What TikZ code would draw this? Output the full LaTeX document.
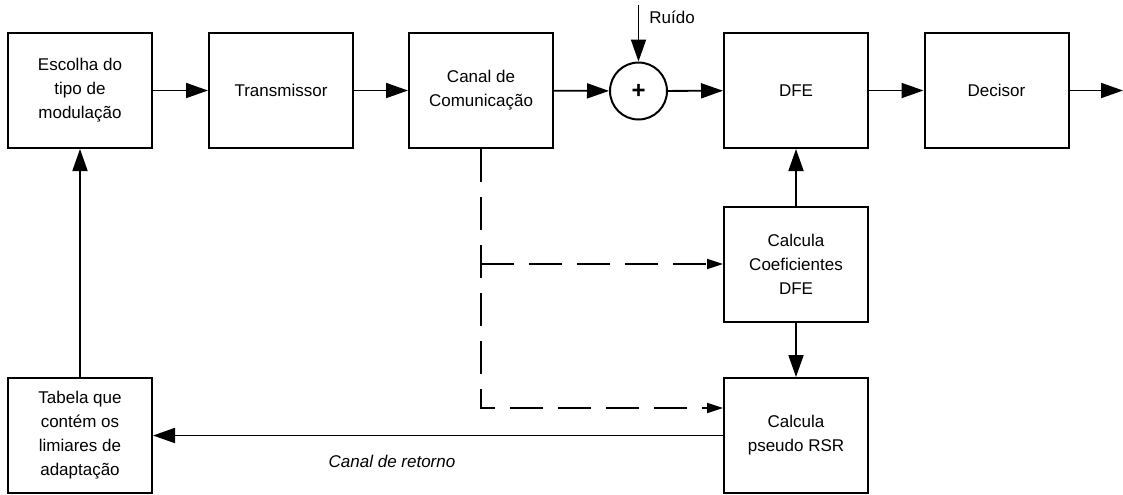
\documentclass[tikz,border=0pt]{standalone}
\usepackage{fontspec}
\setmainfont{Liberation Sans}
\usetikzlibrary{arrows.meta}
\begin{document}
\begin{tikzpicture}[x=0.5pt,y=-0.5pt,
  blk/.style={draw,line width=1pt,minimum width=72pt,minimum height=57.5pt,
    inner sep=0pt,align=center,font=\fontsize{8.5}{12}\selectfont},
  sumnode/.style={draw,circle,line width=1pt,minimum size=28.5pt,inner sep=0pt},
  flow/.style={line width=0.9pt,-{Triangle[length=11pt,width=7.5pt]}},
  tapline/.style={line width=0.9pt,dash pattern=on 16.5pt off 7.5pt,
    -{Triangle[length=8pt,width=5pt]}},
  lbl/.style={font=\fontsize{8.5}{12}\selectfont,inner sep=0pt}
]
\useasboundingbox (0,0) rectangle (1123,494);

% processing blocks
\node[blk] (esc)   at (80,90.5)   {Escolha do\\tipo de\\modulação};
\node[blk] (tx)    at (281,90.5)  {Transmissor};
\node[blk] (canal) at (481,90.5)  {Canal de\\Comunicação};
\node[sumnode] (sum) at (638.5,91) {\fontsize{12}{12}\selectfont\bfseries +};
\node[blk] (dfe)   at (796,90.5)  {DFE};
\node[blk] (dec)   at (996.5,90.5) {Decisor};
\node[blk] (coef)  at (796,264)   {Calcula\\Coeficientes\\DFE};
\node[blk] (rsr)   at (796,435.5) {Calcula\\pseudo RSR};
\node[blk] (tab)   at (80,435.5)  {Tabela que\\contém os\\limiares de\\adaptação};

% free ends and tap points
\coordinate (noise) at (638.5,5);
\coordinate (out)   at (1123,90.5);
\coordinate (tapA)  at (481,264);
\coordinate (tapB)  at (481,408);

% forward path
\draw[flow] (esc) -- (tx);
\draw[flow] (tx) -- (canal);
\draw[flow] (canal) -- (sum);
\draw[flow] (sum) -- (dfe);
\draw[flow] (dfe) -- (dec);
\draw[flow] (dec) -- (out);
\draw[flow] (noise) -- (sum.north);
\node[lbl,anchor=west] (ruido) at (649,17) {Ruído};

% equaliser adaptation
\draw[flow] (coef) -- (dfe);
\draw[flow] (coef) -- (rsr);

% channel knowledge taps (dashed)
\draw[tapline] (canal.south) -- (tapB) -- (tapB -| rsr.west);
\draw[tapline] (tapA) -- (tapA -| coef.west);

% return channel and feedback to the modulation choice
\draw[flow] (rsr.west) -- (tab.east);
\node[lbl,font=\fontsize{8.5}{12}\selectfont\itshape] (ret) at (392,461) {Canal de retorno};
\draw[flow] (tab) -- (esc);
\end{tikzpicture}
\end{document}
